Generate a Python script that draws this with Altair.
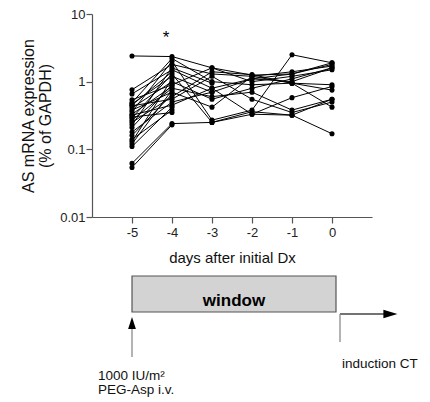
import altair as alt
import pandas as pd

FONT = "Liberation Sans"

# ---- data: AS mRNA expression (% of GAPDH) per patient, by day after initial Dx
days = [-5, -4, -3, -2, -1, 0]
day_m5 = [2.4, 0.76, 0.66, 0.54, 0.49, 0.47, 0.44, 0.41, 0.38, 0.36, 0.32, 0.29, 0.27, 0.25,
          0.23, 0.21, 0.18, 0.16, 0.14, 0.13, 0.12, 0.11, 0.062, 0.054, 0.30, 0.45, 0.33]
day_m4 = [2.35, 1.8, 1.5, 0.9, 2.2, 1.2, 0.55, 1.0, 0.7, 2.0, 0.45, 1.3, 0.8, 0.6,
          1.6, 0.9, 0.5, 0.65, 0.38, 1.1, 0.75, 0.42, 0.24, 0.23, 0.35, 1.4, 0.85]
day_m3 = [1.6, 1.3, 0.8, 1.6, 1.0, 0.7, 1.2, 0.55, 0.42, 0.27, 0.8, 0.25, 0.6, 1.4,
          0.95, None, 0.7, None, None, None, None, None, 0.25, None, None, None, None]
day_m2 = [1.25, 1.2, 1.1, 1.0, 0.9, 1.1, 0.55, 0.8, 1.2, 0.38, 0.33, 0.36, 0.7, 1.27,
          None, None, None, None, None, None, None, None, 0.33, None, None, None, None]
day_m1 = [1.3, 1.4, 1.0, 1.2, 0.95, 1.3, 0.35, 1.1, 0.95, 2.5, 0.58, 0.32, 0.38, 0.95,
          None, None, None, None, None, None, None, None, 0.32, None, None, None, None]
day_0 = [1.9, 1.7, 1.6, 1.5, 0.9, 1.8, 0.5, 1.6, 0.75, 1.9, 0.85, 0.17, 0.55, 0.42,
         None, None, None, None, None, None, None, None, 0.55, None, None, None, None]

y_ticks = [0.01, 0.1, 1, 10]
x_ticks = [-5, -4, -3, -2, -1, 0]

rows = []
for d, col in zip(days, [day_m5, day_m4, day_m3, day_m2, day_m1, day_0]):
    for i, v in enumerate(col):
        if v is not None:
            rows.append({"patient": i + 1, "day": d, "value": v})
df = pd.DataFrame(rows)

# ---- schematic below the axis (x in days, y in diagram units below plot top)
box = pd.DataFrame({"x": [-5.0], "x2": [0.1], "y": [262], "y2": [298], "label": ["window"], "xc": [-2.45], "yc": [287]})
rules = pd.DataFrame({
    "x": [-5.0, 0.2, 0.2], "x2": [-5.0, 1.35, 0.2],
    "y": [343, 300, 300], "y2": [313, 300, 328],
    "c": ["#8a8a8a", "#444444", "#8a8a8a"],
})
heads_up = pd.DataFrame({"x": [-5.0], "y": [309]})
heads_right = pd.DataFrame({"x": [1.46], "y": [300]})
notes = pd.DataFrame({
    "x": [0.25, -5.85, -5.85],
    "y": [350, 362, 376],
    "text": ["induction CT", "1000 IU/m²", "PEG-Asp i.v."],
})
star = pd.DataFrame({"x": [-4.15], "y": [4.4], "text": ["*"]})

xscale = alt.Scale(domain=[-6, 1], nice=False, zero=False)
yscale = alt.Scale(type="log", domain=[0.01, 10], nice=False)
dscale = alt.Scale(domain=[203, 0], nice=False, zero=False)

x_enc = alt.X("day:Q", scale=xscale, axis=alt.Axis(
    values=x_ticks, labelExpr="'' + datum.value", title="days after initial Dx",
    grid=False, tickSize=6, labelPadding=3, titlePadding=11, titleFontSize=15,
    titleFontWeight="normal", labelFontSize=13))

lines = alt.Chart(df).mark_line(color="black", strokeWidth=1).encode(
    x=x_enc,
    y=alt.Y("value:Q", scale=yscale, axis=alt.Axis(
        values=y_ticks, format="~g", title=["AS mRNA expression", "(% of GAPDH)"],
        grid=False, tickSize=6, labelPadding=1, titlePadding=6, titleFontSize=16,
        titleFontWeight="normal", titleLineHeight=17, labelFontSize=13)),
    detail="patient:N",
)
points = alt.Chart(df).mark_circle(color="black", size=26, opacity=1).encode(
    x=alt.X("day:Q", scale=xscale),
    y=alt.Y("value:Q", scale=yscale, axis=None),
)
star_l = alt.Chart(star).mark_text(fontSize=17, font=FONT, color="black").encode(
    x=alt.X("x:Q", scale=xscale),
    y=alt.Y("y:Q", scale=yscale, axis=None),
    text="text:N",
)

box_l = alt.Chart(box).mark_rect(fill="#d3d3d3", stroke="#555555", strokeWidth=1.2).encode(
    x=alt.X("x:Q", scale=xscale), x2="x2:Q",
    y=alt.Y("y:Q", scale=dscale, axis=None), y2="y2:Q",
)
box_t = alt.Chart(box).mark_text(fontSize=17, fontWeight="bold", font=FONT, color="black").encode(
    x=alt.X("xc:Q", scale=xscale),
    y=alt.Y("yc:Q", scale=dscale, axis=None),
    text="label:N",
)
rule_l = alt.Chart(rules).mark_rule(strokeWidth=1.3).encode(
    x=alt.X("x:Q", scale=xscale), x2="x2:Q",
    y=alt.Y("y:Q", scale=dscale, axis=None), y2="y2:Q",
    color=alt.Color("c:N", scale=None),
)
up_l = alt.Chart(heads_up).mark_point(shape="M0,-1L0.65,1L-0.65,1Z", size=144, filled=True,
                                      color="black", opacity=1).encode(
    x=alt.X("x:Q", scale=xscale),
    y=alt.Y("y:Q", scale=dscale, axis=None),
)
right_l = alt.Chart(heads_right).mark_point(shape="M1,0L-1,0.6L-1,-0.6Z", size=196, filled=True,
                                            color="black", opacity=1).encode(
    x=alt.X("x:Q", scale=xscale),
    y=alt.Y("y:Q", scale=dscale, axis=None),
)
notes_l = alt.Chart(notes).mark_text(fontSize=13.5, font=FONT, color="#111111", align="left",
                                     baseline="middle").encode(
    x=alt.X("x:Q", scale=xscale),
    y=alt.Y("y:Q", scale=dscale, axis=None),
    text="text:N",
)

chart = alt.layer(
    lines, points, star_l, box_l, box_t, rule_l, up_l, right_l, notes_l
).resolve_scale(y="independent").properties(
    width=280, height=203,
    padding={"left": 12, "top": 0, "right": 0, "bottom": 0},
).configure_view(stroke=None).configure_axis(
    labelFont=FONT, titleFont=FONT, domainColor="#555555", tickColor="#555555",
    labelColor="#222222", titleColor="#111111", domainWidth=1.2, tickWidth=1.2,
)

chart.save("out.html", embed_options={"renderer": "svg", "actions": False})
